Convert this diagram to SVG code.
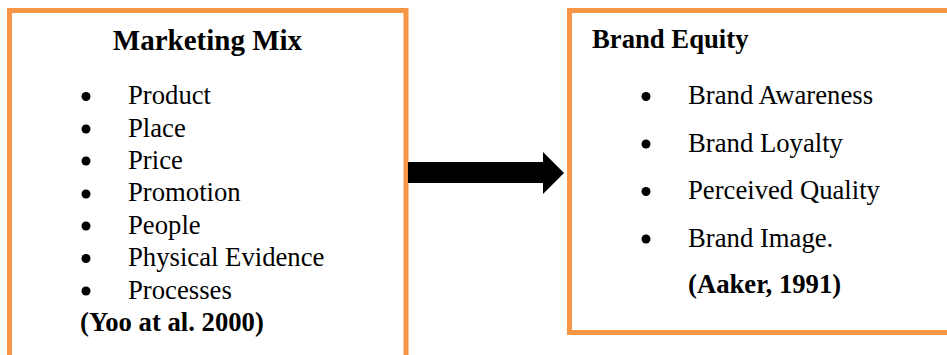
<svg xmlns="http://www.w3.org/2000/svg" width="947" height="355" viewBox="0 0 947 355">
  <style>
    .box { fill: #ffffff; stroke: #F79646; stroke-width: 5; }
    .t { font-family: "Liberation Serif", "Times New Roman", serif; font-size: 26.7px; fill: #000; }
    .b { font-weight: bold; }
    .title { font-size: 29px; }
    .dot { fill: #000; }
  </style>
  <rect width="947" height="355" fill="#ffffff"/>
  <g id="marketing-mix">
    <rect class="box" x="9.5" y="10.5" width="396.5" height="360"/>
    <text class="t b title" x="207.5" y="50" text-anchor="middle">Marketing Mix</text>
    <circle class="dot" cx="86" cy="96.5" r="4.5"/>
    <text class="t" x="128" y="104">Product</text>
    <circle class="dot" cx="86" cy="129" r="4.5"/>
    <text class="t" x="128" y="136.5">Place</text>
    <circle class="dot" cx="86" cy="161" r="4.5"/>
    <text class="t" x="128" y="168.5">Price</text>
    <circle class="dot" cx="86" cy="194" r="4.5"/>
    <text class="t" x="128" y="201">Promotion</text>
    <circle class="dot" cx="86" cy="226" r="4.5"/>
    <text class="t" x="128" y="233.5">People</text>
    <circle class="dot" cx="86" cy="258.5" r="4.5"/>
    <text class="t" x="128" y="266">Physical Evidence</text>
    <circle class="dot" cx="86" cy="291" r="4.5"/>
    <text class="t" x="128" y="298.5">Processes</text>
    <text class="t b" x="80" y="330.5">(Yoo at al. 2000)</text>
  </g>
  <g id="brand-equity">
    <rect class="box" x="569.5" y="10.5" width="390" height="322"/>
    <text class="t b" x="592" y="48">Brand Equity</text>
    <circle class="dot" cx="646" cy="96.5" r="4.5"/>
    <text class="t" x="688" y="104">Brand Awareness</text>
    <circle class="dot" cx="646" cy="144" r="4.5"/>
    <text class="t" x="688" y="152">Brand Loyalty</text>
    <circle class="dot" cx="646" cy="191.5" r="4.5"/>
    <text class="t" x="688" y="199">Perceived Quality</text>
    <circle class="dot" cx="646" cy="239" r="4.5"/>
    <text class="t" x="688" y="247">Brand Image.</text>
    <text class="t b" x="688" y="293">(Aaker, 1991)</text>
  </g>
  <g id="connectors">
    <polygon points="408,162 543,162 543,152 564,173 543,194 543,183 408,183" fill="#000"/>
  </g>
</svg>
